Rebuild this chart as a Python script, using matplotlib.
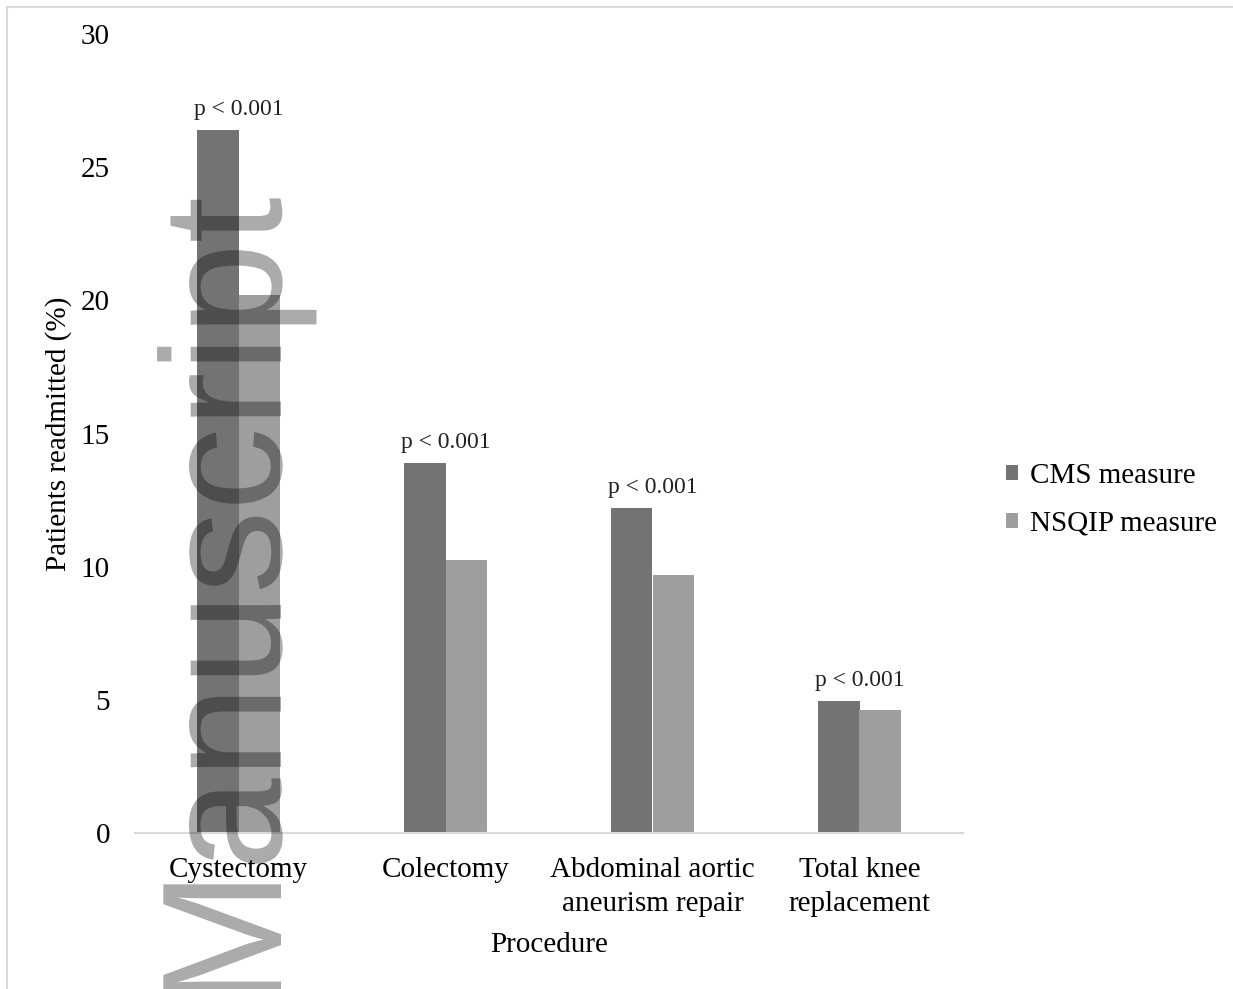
import numpy as np
import matplotlib
matplotlib.use("Agg")
from matplotlib import pyplot as plt
from matplotlib.lines import Line2D
from matplotlib.patches import PathPatch
from matplotlib.textpath import TextPath
from matplotlib.font_manager import FontProperties
from matplotlib.transforms import Affine2D

procedures = ["Cystectomy", "Colectomy", "Abdominal aortic\naneurism repair", "Total knee\nreplacement"]
cms = [26.4, 13.9, 12.2, 4.95]
nsqip = [20.2, 10.25, 9.7, 4.6]
p_labels = ["p < 0.001", "p < 0.001", "p < 0.001", "p < 0.001"]
yticks = [0, 5, 10, 15, 20, 25, 30]

W, H = 1233, 989
plt.rcParams["font.family"] = ["Liberation Serif", "DejaVu Serif"]

fig = plt.figure(figsize=(W / 100, H / 100), dpi=100)
ax = fig.add_axes([135 / W, 1 - 833 / H, (963 - 135) / W, (833 - 34) / H])

x = np.arange(len(procedures))
bw = 0.2
ax.bar(x - bw / 2, cms, bw, color="#737373", label="CMS measure", zorder=2)
ax.bar(x + bw / 2, nsqip, bw, color="#9e9e9e", label="NSQIP measure", zorder=2)

for xi, top, lab in zip(x, cms, p_labels):
    ax.annotate(lab, (xi, top), xytext=(0, 11), textcoords="offset points",
                ha="center", va="baseline", fontsize=17, color="#222222")

ax.set_xlim(-0.5, len(procedures) - 0.5)
ax.set_ylim(0, 30)
ax.set_yticks(yticks)
ax.set_xticks(x)
ax.set_xticklabels(procedures, fontsize=21, linespacing=1.4)
ax.tick_params(axis="y", labelsize=21, length=0, pad=18)
ax.tick_params(axis="x", length=0, pad=17)
for s in ["top", "right", "left"]:
    ax.spines[s].set_visible(False)
ax.spines["bottom"].set_color("#d9d9d9")
ax.spines["bottom"].set_linewidth(1.5)

ax.set_ylabel("Patients readmitted (%)", fontsize=21, labelpad=6)
ax.set_xlabel("Procedure", fontsize=21, labelpad=11)

fig.legend(loc="center left", bbox_to_anchor=(1006 / W, 1 - 500 / H), frameon=False,
           fontsize=21, handlelength=0.42, handleheight=0.42, handletextpad=0.4,
           labelspacing=0.75, borderaxespad=0, borderpad=0)

# figure border (top and left edges only visible)
fig.add_artist(Line2D([7 / W, 1], [1 - 7 / H, 1 - 7 / H], color="#d9d9d9", lw=1.5))
fig.add_artist(Line2D([7 / W, 7 / W], [0, 1 - 7 / H], color="#d9d9d9", lw=1.5))

# watermark, drawn in pixel coordinates
wm = TextPath((0, 0), "Manuscript", size=166, prop=FontProperties(family="Liberation Sans"))
wm_tr = Affine2D().scale(1, 1.03).rotate_deg(90).translate(281, H - 1009)
fig.add_artist(PathPatch(wm_tr.transform_path(wm), facecolor="black", edgecolor="none",
                         alpha=0.33, zorder=10, transform=None))

fig.savefig("out.png", dpi=100)
